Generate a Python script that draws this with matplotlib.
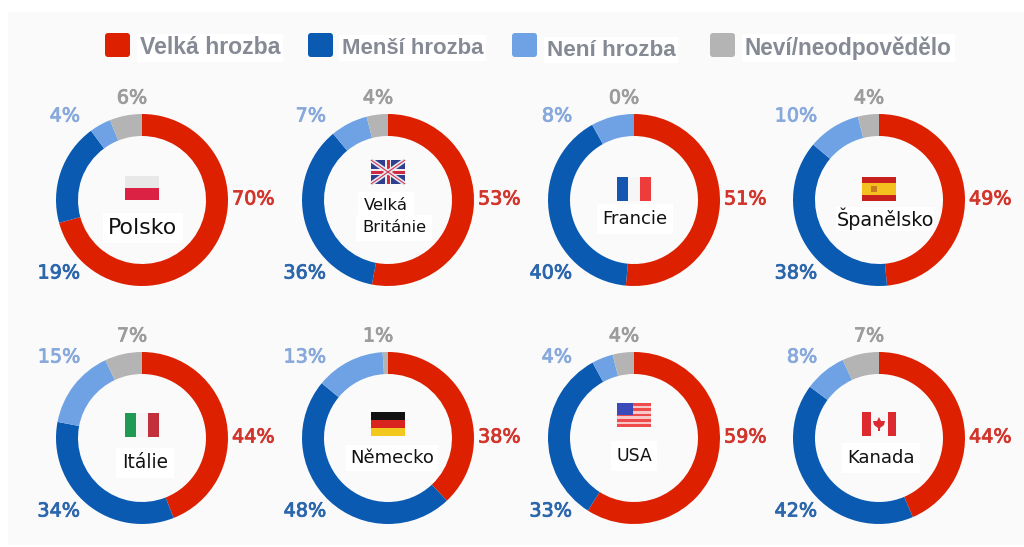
import matplotlib
matplotlib.use("Agg")
import matplotlib.pyplot as plt
import matplotlib.patheffects as pe
from matplotlib.patches import Rectangle, FancyBboxPatch, Polygon

W, H = 1024, 547
countries = ["Polsko", "Velká Británie", "Francie", "Španělsko", "Itálie", "Německo", "USA", "Kanada"]
velka = [70, 53, 51, 49, 44, 38, 59, 44]
mensi = [19, 36, 40, 38, 34, 48, 33, 42]
neni = [4, 7, 8, 10, 15, 13, 4, 8]
nevi = [6, 4, 0, 4, 7, 1, 4, 7]
legend_labels = ["Velká hrozba", "Menší hrozba", "Není hrozba", "Neví/neodpovědělo"]

colors = ["#dd2000", "#0a5ab2", "#6ea2e4", "#b4b4b4"]
text_colors = ["#d2352c", "#2c66ac", "#88a9dc", "#9c9c9c"]
centers_x = [142, 388, 634, 879]
centers_y = [200, 438]
R = 86

fig = plt.figure(figsize=(W / 100, H / 100), dpi=100, facecolor="white")
fig.patches.append(Rectangle((8 / W, 2 / H), 1016 / W, 533 / H, transform=fig.transFigure,
                             facecolor="#fafafa", edgecolor="none", zorder=-5))

ov = fig.add_axes([0, 0, 1, 1], zorder=5)
ov.set_xlim(0, W)
ov.set_ylim(H, 0)
ov.axis("off")
ov.patch.set_alpha(0)


def flag_h(x, y, w, h, cols, shares=None):
    shares = shares or [1 / len(cols)] * len(cols)
    cy = y
    for c, s in zip(cols, shares):
        ov.add_patch(Rectangle((x, cy), w, h * s, fc=c, ec="none"))
        cy += h * s


def flag_v(x, y, w, h, cols, shares=None):
    shares = shares or [1 / len(cols)] * len(cols)
    cx = x
    for c, s in zip(cols, shares):
        ov.add_patch(Rectangle((cx, y), w * s, h, fc=c, ec="none"))
        cx += w * s


def flag_poland(x, y, w, h):
    flag_h(x, y, w, h, ["#e8e8e8", "#dc2244"])


def flag_uk(x, y, w, h):
    ov.add_patch(Rectangle((x, y), w, h, fc="#2f3f8f", ec="none"))
    ov.plot([x, x + w], [y, y + h], color="#e8e8f0", lw=3.2, solid_capstyle="butt")
    ov.plot([x, x + w], [y + h, y], color="#e8e8f0", lw=3.2, solid_capstyle="butt")
    ov.plot([x, x + w], [y, y + h], color="#d03a50", lw=0.8, solid_capstyle="butt")
    ov.plot([x, x + w], [y + h, y], color="#d03a50", lw=0.8, solid_capstyle="butt")
    ov.add_patch(Rectangle((x + w / 2 - 3, y), 6, h, fc="#eeeeee", ec="none"))
    ov.add_patch(Rectangle((x, y + h / 2 - 3), w, 6, fc="#eeeeee", ec="none"))
    ov.add_patch(Rectangle((x + w / 2 - 1.5, y), 3, h, fc="#d02a40", ec="none"))
    ov.add_patch(Rectangle((x, y + h / 2 - 1.5), w, 3, fc="#d02a40", ec="none"))


def flag_france(x, y, w, h):
    flag_v(x, y, w, h, ["#1557b0", "#f6f6f6", "#ee3c3c"])


def flag_spain(x, y, w, h):
    flag_h(x, y, w, h, ["#c8201c", "#f4c020", "#c8201c"], [0.25, 0.5, 0.25])
    ov.add_patch(Rectangle((x + 9, y + h / 2 - 3), 6, 6, fc="#c87a20", ec="none"))


def flag_italy(x, y, w, h):
    flag_v(x, y, w, h, ["#1f9a55", "#f6f6f6", "#c2303c"])


def flag_germany(x, y, w, h):
    flag_h(x, y, w, h, ["#111111", "#d8231f", "#f2c81e"])


def flag_usa(x, y, w, h):
    n = 9
    for i in range(n):
        ov.add_patch(Rectangle((x, y + i * h / n), w, h / n,
                               fc="#ee4c4c" if i % 2 == 0 else "#f8c8c8", ec="none"))
    ov.add_patch(Rectangle((x, y), w * 0.46, h * 0.5, fc="#3a4ab8", ec="none"))


def flag_canada(x, y, w, h):
    flag_v(x, y, w, h, ["#dc2a30", "#f8f8f8", "#dc2a30"], [0.25, 0.5, 0.25])
    cx, cy = x + w / 2, y + h / 2
    ov.add_patch(Polygon([(cx, cy - 7), (cx + 2, cy - 3), (cx + 6, cy - 3), (cx + 5, cy + 1),
                          (cx + 1, cy + 4), (cx + 1, cy + 7), (cx - 1, cy + 7), (cx - 1, cy + 4),
                          (cx - 5, cy + 1), (cx - 6, cy - 3), (cx - 2, cy - 3)],
                         fc="#dc2a30", ec="none"))


flag_funcs = [flag_poland, flag_uk, flag_france, flag_spain,
              flag_italy, flag_germany, flag_usa, flag_canada]
flag_y = [176, 160, 177, 177, 413, 412, 403, 412]
label_pos = [(143, 228), None, (635, 219), (885, 219),
             (145, 463), (392, 458), (634, 456), (881, 458)]
label_size = [15.8, 11.8, 13, 13.8, 13.4, 13, 12.4, 13]
label_pad = [4, 4, 4, 0.5, 4, 3, 4, 4]

lab = {"family": "DejaVu Sans", "fontsize": 13.8, "fontweight": "normal"}


def heavy(color):
    return [pe.withStroke(linewidth=0.6, foreground=color)]


for i, name in enumerate(countries):
    row, col = divmod(i, 4)
    cx, cy = centers_x[col], centers_y[row]
    ax = fig.add_axes([(cx - R) / W, 1 - (cy + R) / H, 2 * R / W, 2 * R / H], zorder=2)
    ax.patch.set_alpha(0)
    ax.pie([velka[i], mensi[i], neni[i], nevi[i]], colors=colors, startangle=90, counterclock=False,
           radius=1, wedgeprops={"width": 22 / R, "edgecolor": "none"})
    ax.set_xlim(-1, 1)
    ax.set_ylim(-1, 1)

    tl_dy = -84 if row == 0 else -81
    placed = [(cx + 90, cy - 1, velka[i], 0, "left"), (cx - 62, cy + 73, mensi[i], 1, "right"),
              (cx - 62, cy + tl_dy, neni[i], 2, "right"), (cx - 10, cy - 102, nevi[i], 3, "center")]
    for x, y, v, k, ha in placed:
        ov.text(x, y, f"{v}%", color=text_colors[k], ha=ha, va="center",
                path_effects=heavy(text_colors[k]), **lab)

    flag_funcs[i](cx - 17, flag_y[i], 34, 24)
    box = dict(facecolor="white", edgecolor="none", pad=label_pad[i])
    if label_pos[i] is None:
        first, second = name.split(" ")
        ov.text(386, 205, first, color="#111111", ha="center", va="center", family="DejaVu Sans",
                fontsize=label_size[i], bbox=box)
        ov.text(394, 228, second, color="#111111", ha="center", va="center", family="DejaVu Sans",
                fontsize=label_size[i], bbox=box)
    else:
        lx, ly = label_pos[i]
        ov.text(lx, ly, name, color="#111111", ha="center", va="center", family="DejaVu Sans",
                fontsize=label_size[i], bbox=box)

legend_box_x = [105, 308, 512, 710]
legend_text_x = [140, 342, 547, 745]
legend_text_y = [48, 48, 50, 48]
legend_size = [16.6, 16.0, 16.2, 16.3]
for j, text in enumerate(legend_labels):
    ov.add_patch(FancyBboxPatch((legend_box_x[j] + 3, 36), 19, 18, boxstyle="round,pad=3",
                                fc=colors[j], ec="none"))
    ov.text(legend_text_x[j], legend_text_y[j], text, color="#858a94", ha="left", va="center",
            family="Liberation Sans", fontweight="bold", fontsize=legend_size[j],
            bbox=dict(facecolor="white", edgecolor="none", pad=2))

fig.savefig("out.png", dpi=100, facecolor="white")
